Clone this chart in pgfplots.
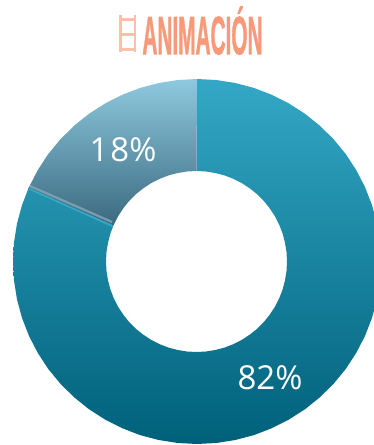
\documentclass[border=0pt]{standalone}
\usepackage{pgfplots}
\pgfplotsset{compat=1.18}
\usepackage{fontspec}
\setmainfont{Open Sans}
\newfontfamily\titlefont[BoldFeatures={FakeBold=1.5}]{Liberation Sans}
\definecolor{bigtop}{HTML}{33A8C6}
\definecolor{bigmid}{HTML}{0A8BA6}
\definecolor{bigbot}{HTML}{00607A}
\definecolor{smalltop}{HTML}{8FC9DF}
\definecolor{smallbot}{HTML}{3A6A80}
\definecolor{sepcyan}{HTML}{30AECB}
\definecolor{sepgray}{HTML}{86A9B8}
\definecolor{titlec}{HTML}{F89A7A}
\definecolor{iconc}{HTML}{FBC0AA}
\begin{document}
\begin{tikzpicture}
\begin{axis}[
  anchor=south west, at={(0pt,0pt)},
  scale only axis, width=374pt, height=445pt,
  xmin=0, xmax=374, ymin=0, ymax=445, y dir=reverse,
  axis lines=none, clip=true,
]
% 82 % wedge
\addplot[draw=none, top color=bigtop, middle color=bigmid, bottom color=bigbot] coordinates {
(197,79)(216.2,80)(235.3,83)(253.9,87.9)(271.8,94.8)(289,103.5)(305.2,113.9)(320.1,125.9)(333.7,139.4)(345.9,154.2)(356.3,170.2)(365.1,187.3)(372,205.1)(377,223.6)(380,242.4)(381,261.5)
(380,280.6)(377,299.4)(372,317.9)(365.1,335.7)(356.3,352.8)(345.9,368.8)(333.7,383.6)(320.1,397.1)(305.2,409.1)(289,419.5)(271.8,428.2)(253.9,435.1)(235.3,440)(216.2,443)(197,444)
(177.8,443)(158.7,440)(140.1,435.1)(122.2,428.2)(105,419.5)(88.8,409.1)(73.9,397.1)(60.3,383.6)(48.1,368.8)(37.7,352.8)(28.9,335.7)(22,317.9)(17,299.4)(14,280.6)(13,261.5)
(14,242.4)(17,223.6)(22,205.1)(28.3,188.7)
(113.5,225.4)(110.4,233.5)(108,242.7)(106.5,252)(106,261.5)(106.5,271)(108,280.3)(110.4,289.5)(113.8,298.3)(118.1,306.8)(123.3,314.7)(129.2,322.1)(135.9,328.8)(143.3,334.7)(151.2,339.9)(159.7,344.2)(168.5,347.6)(177.7,350)(187,351.5)
(196.5,352)(206,351.5)(215.3,350)(224.5,347.6)(233.3,344.2)(241.8,339.9)(249.7,334.7)(257.1,328.8)(263.8,322.1)(269.7,314.7)(274.9,306.8)(279.2,298.3)(282.6,289.5)(285,280.3)(286.5,271)(287,261.5)
(286.5,252)(285,242.7)(282.6,233.5)(279.2,224.7)(274.9,216.2)(269.7,208.3)(263.8,200.9)(257.1,194.2)(249.7,188.3)(241.8,183.1)(233.3,178.8)(224.5,175.4)(215.3,173)(206,171.5)(196.5,171)
} -- cycle;
% 18 % wedge
\addplot[draw=none, top color=smalltop, bottom color=smallbot] coordinates {
(197,79)(177.8,80)(158.7,83)(140.1,87.9)(122.2,94.8)(105,103.5)(88.8,113.9)(73.9,125.9)(60.3,139.4)(48.1,154.2)(37.7,170.2)(28.9,187.3)(28.3,188.7)
(113.5,225.4)(118.1,216.2)(123.3,208.3)(129.2,200.9)(135.9,194.2)(143.3,188.3)(151.2,183.1)(159.7,178.8)(168.5,175.4)(177.7,173)(187,171.5)(196.5,171)
} -- cycle;
% separator
\addplot[sepgray, line width=2.2pt, no marks, opacity=.8] coordinates {(30,186)(112,222)};
\addplot[sepcyan, line width=1.4pt, no marks] coordinates {(29,188.8)(113,226.5)};
% film-strip icon
\addplot[iconc, line width=2.8pt, no marks] coordinates {(120.5,15)(120.5,52)};
\addplot[iconc, line width=2.8pt, no marks] coordinates {(135,15)(135,52)};
\addplot[iconc, line width=2.4pt, no marks] coordinates {(120.5,19.5)(135,19.5)};
\addplot[iconc, line width=2.4pt, no marks] coordinates {(120.5,34.5)(135,34.5)};
\addplot[iconc, line width=2.4pt, no marks] coordinates {(120.5,49.5)(135,49.5)};
% texts
\node[xscale=.385, text=titlec, inner sep=0pt, anchor=center] at (axis cs:202.5,30.5) {\titlefont\bfseries\fontsize{54}{54}\selectfont ANIMACIÓN};
\node[text=white, inner sep=0pt, anchor=center] at (axis cs:123,150) {\fontsize{33}{33}\selectfont 1\kern2pt 8\%};
\node[text=white, inner sep=0pt, anchor=center] at (axis cs:270,378) {\fontsize{33}{33}\selectfont 82\%};
\end{axis}
\pgfresetboundingbox
\path (0pt,0pt) rectangle (374pt,445pt);
\end{tikzpicture}
\end{document}
